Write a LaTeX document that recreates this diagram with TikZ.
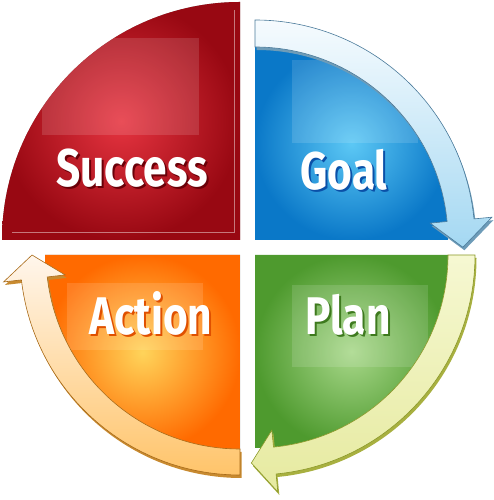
\documentclass[tikz,border=0pt]{standalone}
\usepackage{fontspec}
\setmainfont{Fira Sans}
\definecolor{redin}{HTML}{E63440}
\definecolor{redout}{HTML}{980812}
\definecolor{bluein}{HTML}{5CC8F5}
\definecolor{blueout}{HTML}{0A78C8}
\definecolor{greenin}{HTML}{A8D88A}
\definecolor{greenout}{HTML}{4E9A2E}
\definecolor{orangein}{HTML}{FFD45A}
\definecolor{orangeout}{HTML}{FF6A00}
\definecolor{redsh}{HTML}{6A0008}
\definecolor{bluesh}{HTML}{0A50A8}
\definecolor{orangesh}{HTML}{E05000}
\definecolor{greensh}{HTML}{3E7A1E}
\definecolor{gatop}{HTML}{F6FBFE}
\definecolor{gabot}{HTML}{A4D8F2}
\definecolor{galine}{HTML}{4A7A9A}
\definecolor{gash}{HTML}{6E9CB8}
\definecolor{patop}{HTML}{F6F8D2}
\definecolor{pabot}{HTML}{E6EAA0}
\definecolor{paline}{HTML}{8A9828}
\definecolor{pash}{HTML}{A8B040}
\definecolor{aatop}{HTML}{FFF6EC}
\definecolor{aabot}{HTML}{FFC46A}
\definecolor{aaline}{HTML}{A86A18}
\definecolor{aash}{HTML}{C88A30}
\newcommand\shtext[2]{\scalebox{0.8}[1]{\rlap{\hspace{2.5pt}\raisebox{-2pt}{\textcolor{#1}{#2}}}#2}}
\begin{document}
\begin{tikzpicture}[x=1pt,y=1pt,
  lbl/.style={anchor=base,inner sep=0pt,text=white,font=\fontsize{53}{53}\selectfont\bfseries},
  gloss/.style={fill=white,opacity=0.13},
  edge/.style={fill=black!45}]
\useasboundingbox (0,0) rectangle (493,500);
\coordinate (S) at (240,260);
\coordinate (G) at (255,260);
\coordinate (P) at (255,245);
\coordinate (A) at (240,245);
\def\SuccessShape{(S) -- ++(0,238) arc[start angle=90,end angle=180,radius=238pt] -- cycle}
\def\GoalShape{(G) -- ++(193,0) arc[start angle=0,end angle=90,radius=193pt] -- cycle}
\def\PlanShape{(P) -- ++(0,-193) arc[start angle=270,end angle=360,radius=193pt] -- cycle}
\def\ActionShape{(A) -- ++(-195,0) arc[start angle=180,end angle=270,radius=195pt] -- cycle}
% shadows / edges
\fill[edge, shift={(3,-4)}] \SuccessShape;
\fill[edge, shift={(0,-4)}] \GoalShape;
\fill[edge, shift={(3,0)}] \ActionShape;
% quadrant fills
\shade[inner color=redin, outer color=redout] \SuccessShape;
\shade[inner color=bluein, outer color=blueout] \GoalShape;
\shade[inner color=greenin, outer color=greenout] \PlanShape;
\shade[inner color=orangein, outer color=orangeout] \ActionShape;
% gloss
\begin{scope}\clip \SuccessShape; \fill[gloss] (42,462) rectangle (199,365); \end{scope}
\begin{scope}\clip \GoalShape; \fill[gloss] (292,440) rectangle (418,357); \end{scope}
\begin{scope}\clip \ActionShape; \fill[gloss] (67,217) rectangle (203,150); \end{scope}
\begin{scope}\clip \PlanShape; \fill[gloss] (292,215) rectangle (428,133); \end{scope}
\draw[white, opacity=0.45, line width=0.8] (234,490) -- (234,268) -- (12,268);
% arrows
\def\GoalArrow{(90:220pt) arc[start angle=90,end angle=5.5,radius=220pt] -- (5.5:238pt) -- (-2:208pt) -- (5.5:176pt) -- (5.5:193pt) arc[start angle=5.5,end angle=90,radius=193pt] -- cycle}
\def\PlanArrow{(0:220pt) arc[start angle=0,end angle=-84.5,radius=220pt] -- (-84.5:238pt) -- (-91:208pt) -- (-84.5:176pt) -- (-84.5:193pt) arc[start angle=-84.5,end angle=0,radius=193pt] -- cycle}
\def\ActionArrow{(270:220pt) arc[start angle=270,end angle=186.5,radius=220pt] -- (186.5:238pt) -- (180:208pt) -- (186.5:176pt) -- (186.5:194pt) arc[start angle=186.5,end angle=270,radius=194pt] -- cycle}
\begin{scope}[shift={(G)}]
  \fill[gash, shift={(1.5,-3)}] \GoalArrow;
  \shade[top color=gatop, bottom color=gabot, draw=galine, line width=0.6] \GoalArrow;
\end{scope}
\begin{scope}[shift={(P)}]
  \fill[pash, shift={(1.5,-3)}] \PlanArrow;
  \shade[top color=patop, bottom color=pabot, draw=paline, line width=0.6] \PlanArrow;
\end{scope}
\begin{scope}[shift={(A)}]
  \fill[aash, shift={(1.5,-3)}] \ActionArrow;
  \shade[top color=aatop, bottom color=aabot, draw=aaline, line width=0.6] \ActionArrow;
\end{scope}
% labels
\node[lbl] (success) at (132,313) {\shtext{redsh}{Success}};
\node[lbl] (goal) at (344,310) {\shtext{bluesh}{Goal}};
\node[lbl] (action) at (151,165) {\shtext{orangesh}{Action}};
\node[lbl] (plan) at (348,165) {\shtext{greensh}{Plan}};
\end{tikzpicture}
\end{document}
